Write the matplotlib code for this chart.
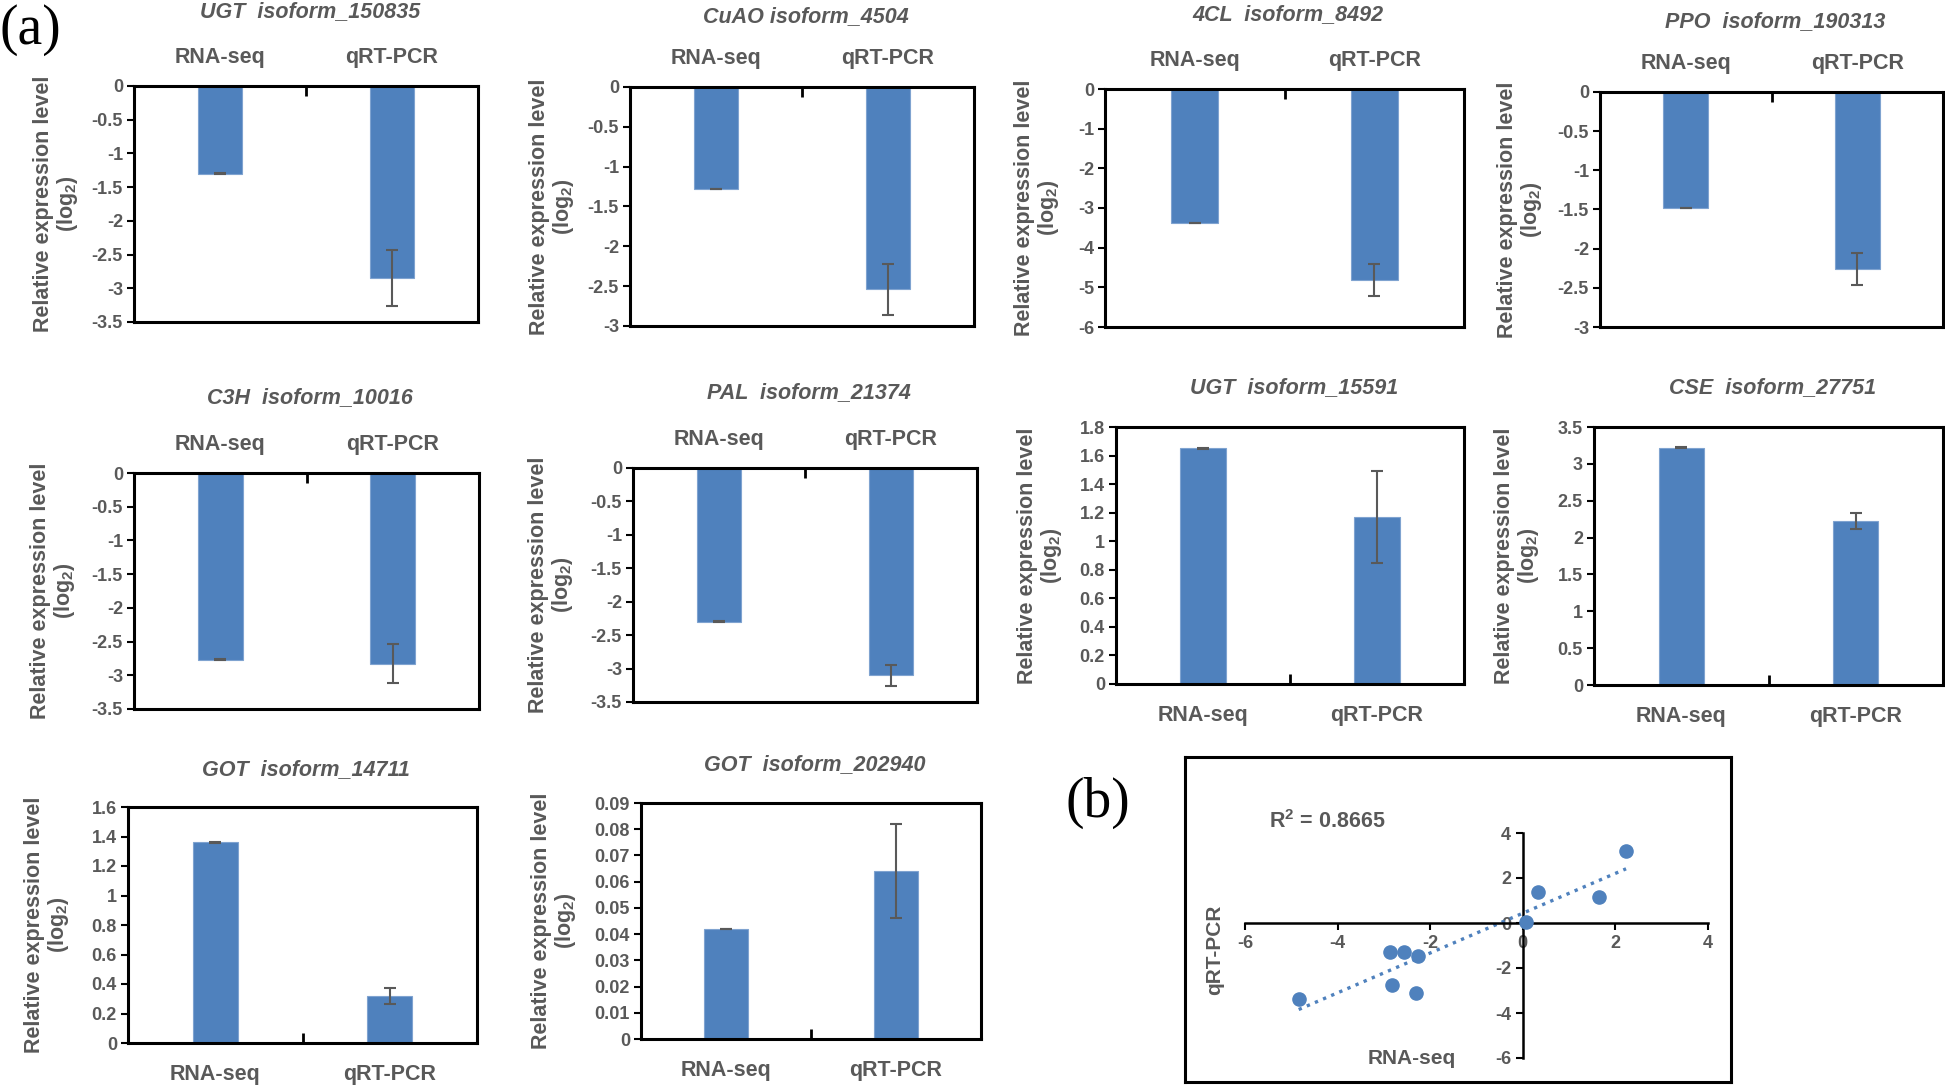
import numpy as np
import matplotlib
matplotlib.use("Agg")
from matplotlib import pyplot as plt
from matplotlib.ticker import FixedLocator

plt.rcParams["font.family"] = ["Liberation Sans", "DejaVu Sans"]
plt.rcParams["font.weight"] = "bold"
plt.rcParams["mathtext.fontset"] = "custom"
plt.rcParams["mathtext.rm"] = "Liberation Sans:bold"
plt.rcParams["mathtext.bf"] = "Liberation Sans:bold"

# ---- data ----
genes = ["UGT  isoform_150835", "CuAO isoform_4504", "4CL  isoform_8492", "PPO  isoform_190313",
         "C3H  isoform_10016", "PAL  isoform_21374", "UGT  isoform_15591", "CSE  isoform_27751",
         "GOT  isoform_14711", "GOT  isoform_202940"]
methods = ["RNA-seq", "qRT-PCR"]
rnaseq = [-1.30, -1.28, -3.38, -1.48, -2.77, -2.30, 1.65, 3.22, 1.36, 0.042]
rnaseq_err = [0.005, 0.005, 0.01, 0.005, 0.005, 0.005, 0.005, 0.005, 0.005, 0.0]
qrtpcr = [-2.85, -2.54, -4.82, -2.26, -2.83, -3.10, 1.17, 2.23, 0.32, 0.064]
qrtpcr_err = [0.42, 0.32, 0.40, 0.21, 0.29, 0.16, 0.32, 0.11, 0.055, 0.018]
y_limits = [(-3.5, 0), (-3, 0), (-6, 0), (-3, 0), (-3.5, 0), (-3.5, 0),
            (0, 1.8), (0, 3.5), (0, 1.6), (0, 0.09)]
y_steps = [0.5, 0.5, 1, 0.5, 0.5, 0.5, 0.2, 0.5, 0.2, 0.01]

scatter_x = [-4.84, -2.87, -2.57, -2.27, -2.83, -2.30, 0.064, 0.32, 1.65, 2.23]
scatter_y = [-3.38, -1.29, -1.28, -1.48, -2.77, -3.10, 0.042, 1.36, 1.17, 3.22]
r_squared = 0.8665

# ---- layout in pixels of the 1945x1088 picture: left, top, right, bottom, title y, ylabel offset ----
W, H = 1945, 1088
boxes = [(134, 86, 478, 322, 12, 54), (630, 87, 974, 326, 17, 54), (1105, 89, 1464, 327, 15, 44),
         (1600, 92, 1943, 327, 22, 56), (134, 473, 479, 709, 398, 57), (633, 468, 977, 702, 393, 58),
         (1116, 427, 1464, 684, 388, 52), (1594, 427, 1943, 685, 388, 53), (128, 807, 477, 1043, 770, 57),
         (641, 803, 981, 1039, 765, 63)]

BLUE = "#4F81BD"
GREY = "#595959"


def rect(l, t, r, b):
    return [l / W, 1 - b / H, (r - l) / W, (b - t) / H]


def fmt(v):
    s = ("%.2f" % v).rstrip("0").rstrip(".")
    return "0" if s in ("-0", "0") else s


fig = plt.figure(figsize=(W / 100, H / 100), dpi=100)

for i, (l, t, r, b, ty, yoff) in enumerate(boxes):
    ax = fig.add_axes(rect(l, t, r, b))
    ax.bar([0, 1], [rnaseq[i], qrtpcr[i]], width=0.26, color=BLUE, edgecolor="#7FA3D0", linewidth=0.8, zorder=2)
    ax.errorbar([0, 1], [rnaseq[i], qrtpcr[i]], yerr=[rnaseq_err[i], qrtpcr_err[i]], fmt="none",
                ecolor=GREY, elinewidth=1.5, capsize=4, capthick=1.5, zorder=3)
    lo, hi = y_limits[i]
    ax.set_ylim(lo, hi)
    ax.set_xlim(-0.5, 1.5)
    ticks = np.round(np.arange(lo, hi + y_steps[i] / 2, y_steps[i]), 4)
    ax.set_yticks(ticks)
    ax.set_yticklabels([fmt(v) for v in ticks], fontweight="bold")
    ax.tick_params(axis="y", direction="out", length=5, width=1.5, labelsize=13, labelcolor=GREY, pad=3)
    ax.set_xticks([0, 1])
    ax.set_xticklabels(methods, fontweight="bold")
    ax.xaxis.set_minor_locator(FixedLocator([0.5]))
    negative = hi <= 0
    if negative:
        ax.xaxis.tick_top()
        ax.tick_params(axis="x", which="major", length=0, labelsize=15.5, labelcolor=GREY, pad=13)
        ax.tick_params(axis="x", which="minor", direction="in", length=7, width=2, top=True, bottom=False)
    else:
        ax.tick_params(axis="x", which="major", length=0, labelsize=15.5, labelcolor=GREY, pad=15)
        ax.tick_params(axis="x", which="minor", direction="in", length=7, width=2, top=False, bottom=True)
    for spine in ax.spines.values():
        spine.set_linewidth(2.2)
        spine.set_color("black")
    ax.set_ylabel("Relative expression level\n(log$_2$)", fontsize=15.5, color=GREY, linespacing=1.05,
                  fontweight="bold")
    ax.yaxis.set_label_coords(-yoff / (r - l), 0.5)
    fig.text((l + r) / 2 / W + 0.002, 1 - ty / H, genes[i], ha="center", va="center",
             fontsize=15.5, style="italic", fontweight="bold", color=GREY)

# ---- (b) correlation ----
frame = fig.add_axes(rect(1185, 757, 1731, 1082))
frame.set_xticks([])
frame.set_yticks([])
for spine in frame.spines.values():
    spine.set_linewidth(2.2)

sc = fig.add_axes(rect(1245, 833, 1708, 1058))
sc.patch.set_alpha(0)
sc.set_xlim(-6, 4)
sc.set_ylim(-6, 4)
sc.spines["left"].set_position(("data", 0))
sc.spines["bottom"].set_position(("data", 0))
sc.spines["top"].set_visible(False)
sc.spines["right"].set_visible(False)
sc.spines["left"].set_linewidth(1.8)
sc.spines["bottom"].set_linewidth(1.8)
sc.set_xticks([-6, -4, -2, 0, 2, 4])
sc.set_yticks([-6, -4, -2, 0, 2, 4])
sc.set_xticklabels([str(v) for v in [-6, -4, -2, 0, 2, 4]], fontweight="bold")
sc.set_yticklabels([str(v) for v in [-6, -4, -2, 0, 2, 4]], fontweight="bold")
sc.tick_params(direction="out", length=5, width=1.5, labelsize=13, labelcolor=GREY)
sc.scatter(scatter_x, scatter_y, s=90, color=BLUE, zorder=3)
slope, icpt = np.polyfit(scatter_x, scatter_y, 1)
xs = np.array([min(scatter_x), max(scatter_x)])
sc.plot(xs, slope * xs + icpt, linestyle=":", color=BLUE, linewidth=2.4, zorder=2)

fig.text(1269 / W, 1 - 822 / H, "R$^2$ = %.4f" % r_squared, ha="left", va="center", fontsize=15.5,
         fontweight="bold", color=GREY)
fig.text(1215 / W, 1 - 950 / H, "qRT-PCR", rotation=90, ha="center", va="center", fontsize=15,
         fontweight="bold", color=GREY)
fig.text(1412 / W, 1 - 1058 / H, "RNA-seq", ha="center", va="center", fontsize=15,
         fontweight="bold", color=GREY)

# panel letters
fig.text(0 / W, 1 - 30 / H, "(a)", ha="left", va="center", fontsize=40, family="Liberation Serif", weight="normal")
fig.text(1066 / W, 1 - 803 / H, "(b)", ha="left", va="center", fontsize=40, family="Liberation Serif", weight="normal")

fig.savefig("out.png", dpi=100)
